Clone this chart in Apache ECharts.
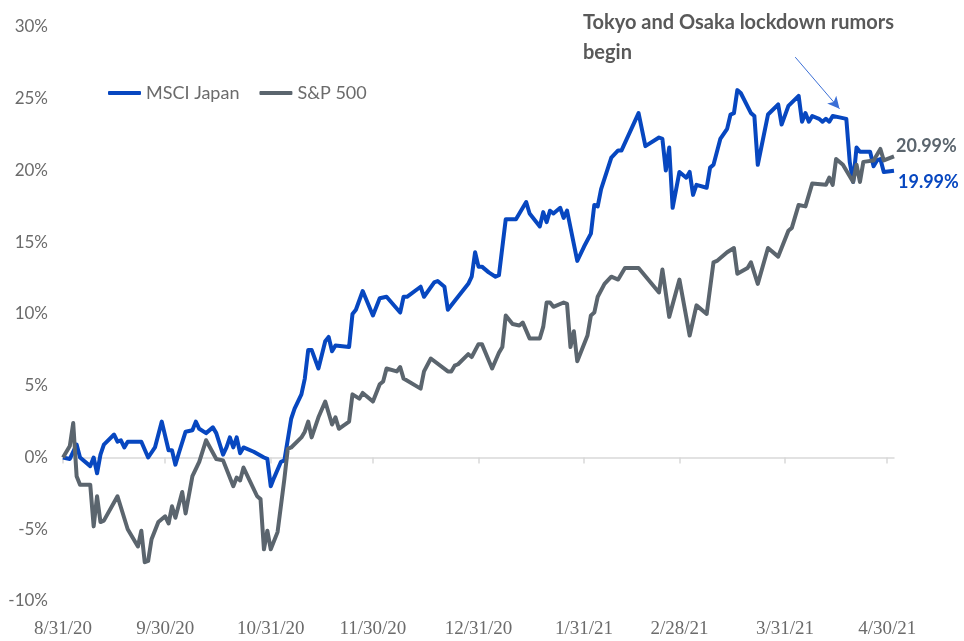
<!DOCTYPE html>
<html>
<head>
<meta charset="utf-8">
<script src="https://cdn.jsdelivr.net/npm/echarts@6/dist/echarts.min.js"></script>
<style>
  html, body { margin: 0; padding: 0; background: #fff; }
  #main { width: 964px; height: 641px; }
</style>
</head>
<body>
<div id="main"></div>
<script>
// MSCI Japan, cumulative return %
var jpDates = ['2020-08-31','2020-09-02','2020-09-04','2020-09-05','2020-09-08','2020-09-09','2020-09-10','2020-09-11','2020-09-12','2020-09-15',
  '2020-09-16','2020-09-17','2020-09-18','2020-09-19','2020-09-23','2020-09-25','2020-09-27','2020-09-29','2020-10-01','2020-10-02',
  '2020-10-03','2020-10-04','2020-10-06','2020-10-08','2020-10-09','2020-10-10','2020-10-12','2020-10-14','2020-10-15','2020-10-17',
  '2020-10-18','2020-10-19','2020-10-20','2020-10-21','2020-10-22','2020-10-23','2020-10-26','2020-10-29','2020-10-30','2020-10-31',
  '2020-11-01','2020-11-03','2020-11-04','2020-11-06','2020-11-07','2020-11-09','2020-11-10','2020-11-11','2020-11-12','2020-11-14',
  '2020-11-16','2020-11-17','2020-11-18','2020-11-19','2020-11-23','2020-11-24','2020-11-25','2020-11-27','2020-11-30','2020-12-02',
  '2020-12-04','2020-12-08','2020-12-09','2020-12-10','2020-12-14','2020-12-15','2020-12-18','2020-12-19','2020-12-21','2020-12-22',
  '2020-12-24','2020-12-28','2020-12-29','2020-12-30','2020-12-31','2021-01-01','2021-01-03','2021-01-05','2021-01-06','2021-01-08',
  '2021-01-11','2021-01-12','2021-01-14','2021-01-15','2021-01-18','2021-01-19','2021-01-20','2021-01-21','2021-01-22','2021-01-24',
  '2021-01-25','2021-01-26','2021-01-29','2021-01-31','2021-02-02','2021-02-03','2021-02-04','2021-02-05','2021-02-08','2021-02-10',
  '2021-02-11','2021-02-16','2021-02-18','2021-02-22','2021-02-23','2021-02-24','2021-02-25','2021-02-26','2021-02-28','2021-03-02',
  '2021-03-03','2021-03-04','2021-03-05','2021-03-08','2021-03-09','2021-03-10','2021-03-12','2021-03-14','2021-03-15','2021-03-16',
  '2021-03-17','2021-03-18','2021-03-21','2021-03-22','2021-03-23','2021-03-26','2021-03-29','2021-03-30','2021-04-01','2021-04-04',
  '2021-04-05','2021-04-06','2021-04-07','2021-04-08','2021-04-10','2021-04-11','2021-04-12','2021-04-13','2021-04-14','2021-04-16',
  '2021-04-18','2021-04-19','2021-04-20','2021-04-21','2021-04-22','2021-04-25','2021-04-26','2021-04-27','2021-04-28','2021-04-29',
  '2021-05-02'];
var jpValues = [0.0,-0.1,0.9,0.0,-0.6,0.0,-1.1,0.2,0.9,1.6,
  1.1,1.2,0.7,1.1,1.1,0.0,0.7,2.5,0.5,0.5,
  -0.5,0.3,1.8,1.9,2.5,2.0,1.7,2.1,1.7,0.2,
  0.7,1.4,0.7,1.4,0.3,0.7,0.4,0.0,-0.1,-2.0,
  -1.4,-0.3,-0.2,2.7,3.4,4.4,5.5,7.5,7.5,6.2,
  8.1,8.4,7.4,7.8,7.7,10.0,10.3,11.6,9.9,11.1,
  11.2,10.1,11.2,11.2,11.9,11.2,12.2,12.3,11.9,10.3,
  10.9,12.1,12.6,14.3,13.3,13.3,12.9,12.6,12.7,16.6,
  16.6,17.0,17.8,17.0,16.1,17.1,16.4,17.2,17.0,17.4,
  16.7,17.2,13.7,14.7,15.6,17.6,17.5,18.7,20.9,21.4,
  21.4,24.0,21.7,22.3,22.2,20.0,21.6,17.4,19.9,19.5,
  19.9,18.3,19.0,18.8,20.2,20.4,22.2,22.9,23.9,24.0,
  25.6,25.4,24.0,23.8,20.4,23.9,24.6,23.2,24.5,25.2,
  23.4,24.0,23.4,23.8,23.6,23.4,23.6,23.4,23.8,23.7,
  23.6,20.6,19.2,21.6,21.3,21.3,20.3,20.7,20.8,19.9,
  19.99];

// S&P 500, cumulative return %
var spDates = ['2020-08-31','2020-09-02','2020-09-03','2020-09-04','2020-09-05','2020-09-08','2020-09-09','2020-09-10','2020-09-11','2020-09-12',
  '2020-09-16','2020-09-19','2020-09-22','2020-09-23','2020-09-24','2020-09-25','2020-09-26','2020-09-28','2020-09-30','2020-10-01',
  '2020-10-02','2020-10-03','2020-10-05','2020-10-06','2020-10-08','2020-10-10','2020-10-12','2020-10-15','2020-10-17','2020-10-20',
  '2020-10-21','2020-10-22','2020-10-23','2020-10-27','2020-10-28','2020-10-29','2020-10-30','2020-10-31','2020-11-02','2020-11-04',
  '2020-11-05','2020-11-06','2020-11-09','2020-11-10','2020-11-11','2020-11-12','2020-11-14','2020-11-16','2020-11-18','2020-11-19',
  '2020-11-20','2020-11-23','2020-11-24','2020-11-26','2020-11-27','2020-11-30','2020-12-02','2020-12-03','2020-12-04','2020-12-07',
  '2020-12-08','2020-12-09','2020-12-14','2020-12-15','2020-12-17','2020-12-22','2020-12-23','2020-12-24','2020-12-25','2020-12-28',
  '2020-12-29','2020-12-31','2021-01-01','2021-01-04','2021-01-06','2021-01-07','2021-01-08','2021-01-10','2021-01-12','2021-01-13',
  '2021-01-15','2021-01-18','2021-01-19','2021-01-20','2021-01-21','2021-01-22','2021-01-25','2021-01-26','2021-01-27','2021-01-28',
  '2021-01-29','2021-02-01','2021-02-02','2021-02-03','2021-02-04','2021-02-06','2021-02-08','2021-02-10','2021-02-12','2021-02-16',
  '2021-02-22','2021-02-23','2021-02-25','2021-02-28','2021-03-03','2021-03-05','2021-03-08','2021-03-10','2021-03-11','2021-03-14',
  '2021-03-16','2021-03-17','2021-03-20','2021-03-21','2021-03-23','2021-03-26','2021-03-29','2021-04-01','2021-04-02','2021-04-04',
  '2021-04-06','2021-04-08','2021-04-12','2021-04-13','2021-04-14','2021-04-15','2021-04-17','2021-04-20','2021-04-21','2021-04-22',
  '2021-04-23','2021-04-26','2021-04-28','2021-04-29','2021-05-02'];
var spValues = [0.0,0.8,2.4,-1.3,-1.9,-1.9,-4.8,-2.7,-4.5,-4.4,
  -2.7,-5.0,-6.2,-5.1,-7.3,-7.2,-5.7,-4.5,-4.1,-4.6,
  -3.4,-4.2,-2.4,-3.9,-1.3,-0.3,1.2,-0.1,-0.2,-2.0,
  -1.4,-1.6,-0.7,-2.7,-2.9,-6.4,-5.1,-6.4,-5.2,-1.5,
  0.6,0.7,1.4,1.8,2.5,1.4,2.8,3.9,2.3,2.8,
  2.0,2.5,4.4,4.1,4.5,3.9,5.1,5.3,6.2,6.0,
  6.3,5.5,4.8,6.0,6.9,6.0,6.0,6.4,6.5,7.2,
  7.0,7.9,7.9,6.2,7.3,7.7,9.9,9.3,9.2,9.4,
  8.3,8.3,9.1,10.8,10.8,10.5,10.8,10.7,7.7,8.8,
  6.7,8.5,9.9,10.1,11.2,12.1,12.6,12.4,13.2,13.2,
  11.5,13.1,9.8,12.4,8.5,10.6,10.0,13.6,13.7,14.3,
  14.6,12.8,13.2,13.6,12.1,14.6,14.0,15.8,16.0,17.6,
  17.5,19.1,19.0,19.5,19.0,20.8,20.4,19.2,20.4,19.2,
  20.6,20.7,21.5,20.7,20.99];

var tickDates = ['2020-08-31','2020-09-30','2020-10-31','2020-11-30','2020-12-31','2021-01-31','2021-02-28','2021-03-31','2021-04-30'];
var tickLabels = ['8/31/20','9/30/20','10/31/20','11/30/20','12/31/20','1/31/21','2/28/21','3/31/21','4/30/21'];
var yTicks = [-10, 30, 5]; // min, max, step

function toTs(s) {
  var p = s.split('-').map(Number);
  return new Date(p[0], p[1] - 1, p[2]).getTime();
}
function pairs(dates, vals) {
  return dates.map(function (d, i) { return [toTs(d), vals[i]]; });
}

var tickTimes = tickDates.map(toTs);
var xMin = toTs('2020-08-31');
var xMax = toTs('2021-05-02');
var blue = '#0747c0';
var gray = '#5b656e';
var textGray = '#6b6b6b';

var chart = echarts.init(document.getElementById('main'));

var option = {
  animation: false,
  title: {
    text: 'Tokyo and Osaka lockdown rumors\nbegin',
    left: 578,
    top: 3,
    textStyle: {
      fontFamily: 'Lato',
      fontWeight: 'bold',
      fontSize: 20,
      lineHeight: 30,
      color: '#595959'
    }
  },
  legend: {
    left: 103,
    top: 79,
    itemWidth: 33,
    itemHeight: 4,
    itemGap: 20,
    icon: 'roundRect',
    data: ['MSCI Japan', 'S&P 500'],
    textStyle: { fontFamily: 'Lato', fontSize: 18, color: textGray }
  },
  grid: { left: 63, right: 70, top: 27, bottom: 40 },
  xAxis: [{
    type: 'value',
    min: xMin,
    max: xMax,
    axisLine: { show: false, onZero: false },
    axisTick: { show: false },
    splitLine: { show: false },
    axisLabel: {
      customValues: tickTimes,
      margin: 19,
      fontFamily: 'Liberation Sans Narrow',
      fontSize: 19,
      color: textGray,
      formatter: function (v) {
        var i = tickTimes.indexOf(v);
        return i >= 0 ? tickLabels[i] : '';
      }
    }
  }, {
    type: 'value',
    position: 'bottom',
    min: xMin,
    max: xMax,
    axisLine: { show: true, onZero: true, lineStyle: { color: '#d9d9d9', width: 1.5 } },
    axisTick: { show: true, customValues: tickTimes, length: 6, lineStyle: { color: '#d9d9d9', width: 1.5 } },
    axisLabel: { show: false, customValues: tickTimes },
    splitLine: { show: false }
  }],
  yAxis: {
    type: 'value',
    min: yTicks[0],
    max: yTicks[1],
    interval: yTicks[2],
    axisLine: { show: false },
    axisTick: { show: false },
    splitLine: { show: false },
    axisLabel: {
      margin: 15,
      fontFamily: 'Lato',
      fontSize: 17,
      color: textGray,
      formatter: '{value}%'
    }
  },
  series: [{
    name: 'MSCI Japan',
    type: 'line',
    xAxisIndex: 0,
    data: pairs(jpDates, jpValues),
    showSymbol: false,
    color: blue,
    lineStyle: { width: 4, color: blue, join: 'round' },
    endLabel: {
      show: true,
      formatter: function (p) { return p.value[1].toFixed(2) + '%'; },
      offset: [0, 12],
      distance: 4,
      fontFamily: 'Lato',
      fontWeight: 'bold',
      fontSize: 18,
      color: blue
    },
    markLine: {
      silent: true,
      symbol: ['none', 'arrow'],
      symbolSize: [9, 12],
      label: { show: false },
      lineStyle: { color: '#3b6fd6', width: 1, type: 'solid' },
      data: [[{ coord: [toTs('2021-04-03'), 27.9] }, { coord: [toTs('2021-04-16'), 24.3] }]]
    }
  }, {
    name: 'S&P 500',
    type: 'line',
    xAxisIndex: 0,
    data: pairs(spDates, spValues),
    showSymbol: false,
    color: gray,
    lineStyle: { width: 4, color: gray, join: 'round' },
    endLabel: {
      show: true,
      formatter: function (p) { return p.value[1].toFixed(2) + '%'; },
      offset: [0, -10],
      distance: 2,
      fontFamily: 'Lato',
      fontWeight: 'bold',
      fontSize: 18,
      color: gray
    }
  }]
};

chart.setOption(option);
</script>
</body>
</html>
